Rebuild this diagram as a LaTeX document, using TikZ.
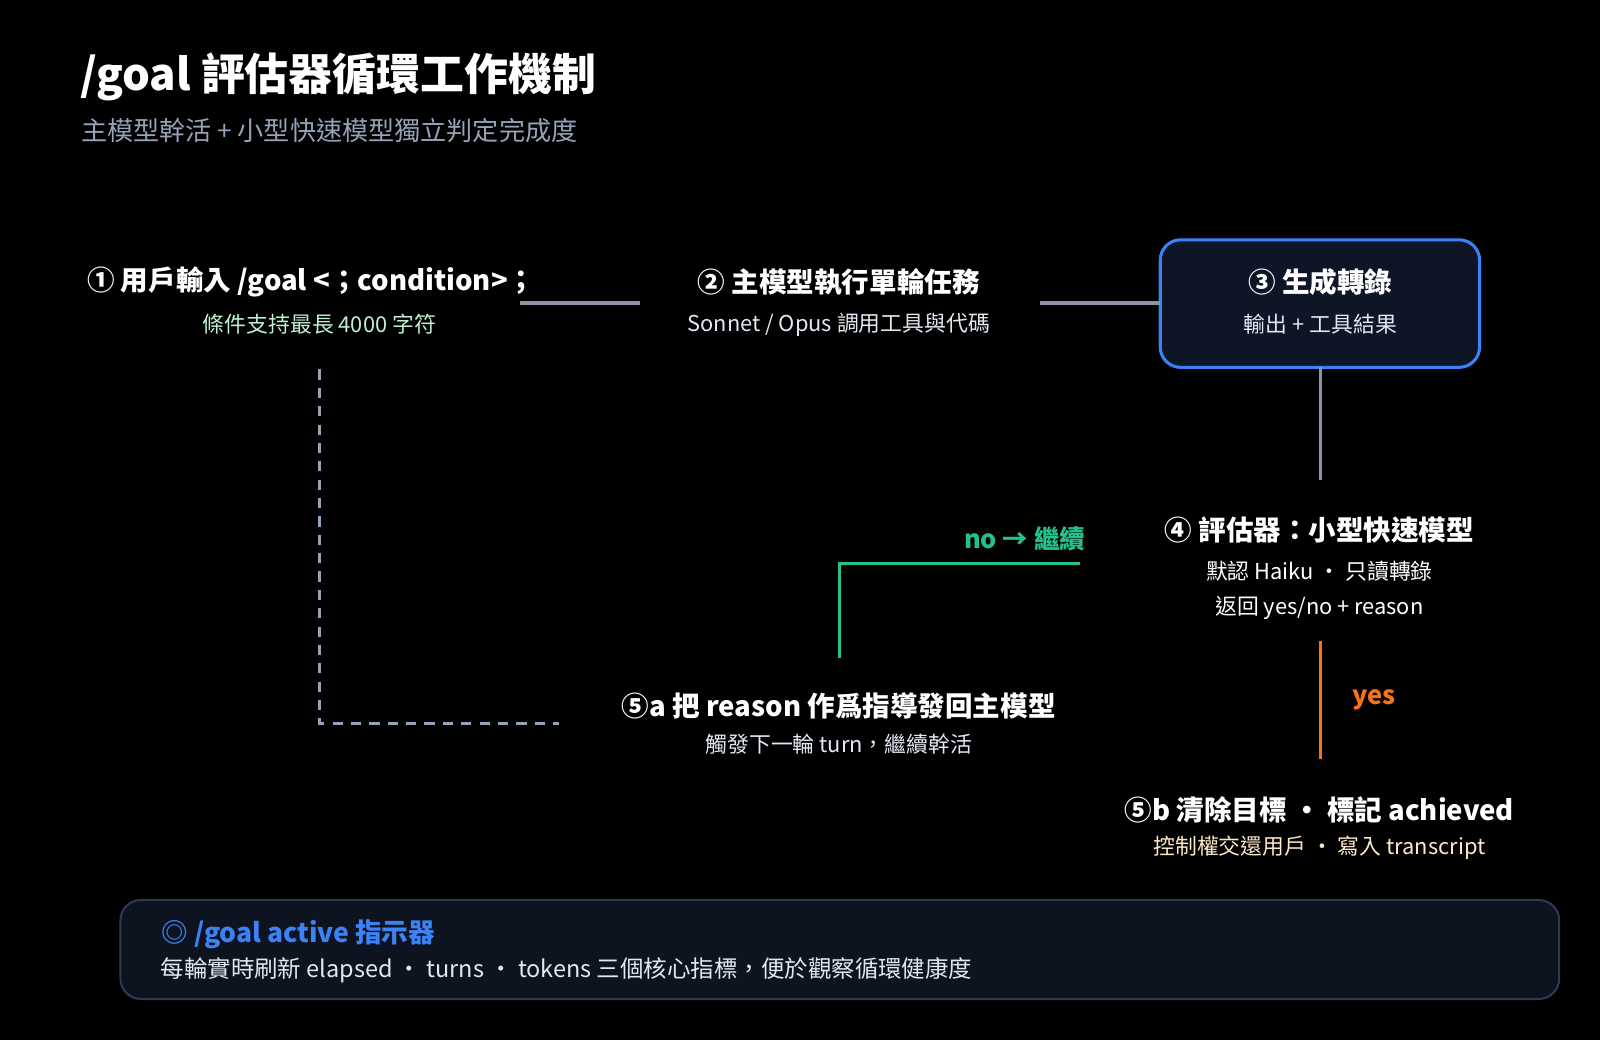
\documentclass[tikz,border=0pt]{standalone}
\usepackage{fontspec}
\setmainfont{Noto Sans CJK TC}
\definecolor{bg}{HTML}{000000}
\definecolor{ln}{HTML}{8A94A6}
\definecolor{grn}{HTML}{22C38A}
\definecolor{org}{HTML}{F97316}
\definecolor{blu}{HTML}{3B82F6}
\definecolor{subg}{HTML}{BFF0D0}
\definecolor{subw}{HTML}{E2E8F0}
\definecolor{suby}{HTML}{FDE8C8}
\definecolor{gry}{HTML}{94A3B8}
\definecolor{boxf}{HTML}{0D1526}
\definecolor{panf}{HTML}{0D1420}
\definecolor{pand}{HTML}{2E3A4D}
\begin{document}
\begin{tikzpicture}[x=0.5pt,y=-0.5pt,
  ttl/.style={text=white,font=\fontsize{13.5}{16}\selectfont\bfseries,anchor=center,inner sep=0},
  sub/.style={font=\fontsize{10.7}{13}\selectfont,anchor=center,inner sep=0},
  conn/.style={line width=1.6pt}]
\fill[bg] (0,0) rectangle (1568,1019);
\useasboundingbox (0,0) rectangle (1568,1019);
\node[anchor=west,text=white,font=\fontsize{21.5}{24}\selectfont\bfseries,inner sep=0] (title) at (78,75) {/goal 評估器循環工作機制};
\node[anchor=west,text=gry,font=\fontsize{12.8}{15}\selectfont,inner sep=0] (subt) at (79,128) {主模型幹活 + 小型快速模型獨立判定完成度};
% node 1
\node[ttl] (n1) at (305,276) {① 用戶輸入 /goal <；condition>；};
\node[sub,text=subg] (n1s) at (313,318) {條件支持最長 4000 字符};
% node 2
\node[ttl] (n2) at (822,276) {② 主模型執行單輪任務};
\node[sub,text=subw] (n2s) at (822,318) {Sonnet / Opus 調用工具與代碼};
% node 3
\draw[blu,fill=boxf,line width=1.5pt,rounded corners=10] (1137,235) rectangle (1450,360);
\node[ttl] (n3) at (1294,276) {③ 生成轉錄};
\node[sub,text=subw] (n3s) at (1294,318) {輸出 + 工具結果};
% node 4
\node[ttl] (n4) at (1293,519) {④ 評估器：小型快速模型};
\node[sub,text=white] (n4s) at (1293,560) {默認 Haiku · 只讀轉錄};
\node[sub,text=white] (n4t) at (1293,596) {返回 yes/no + reason};
% node 5a
\node[ttl] (n5a) at (822,692) {⑤a 把 reason 作爲指導發回主模型};
\node[sub,text=subw] (n5as) at (822,729) {觸發下一輪 turn，繼續幹活};
% node 5b
\node[ttl] (n5b) at (1293,794) {⑤b 清除目標 · 標記 achieved};
\node[sub,text=suby] (n5bs) at (1293,831) {控制權交還用戶 · 寫入 transcript};
% connectors
\coordinate (a1) at (510,297); \coordinate (a2) at (627,297);
\coordinate (b1) at (1019,297); \coordinate (b2) at (1137,297);
\coordinate (c1) at (1294,360); \coordinate (c2) at (1294,470);
\coordinate (g1) at (1058,552); \coordinate (g2) at (823,645);
\coordinate (o1) at (1294,628); \coordinate (o2) at (1294,744);
\coordinate (d1) at (313,362); \coordinate (d2) at (548,709);
\draw[conn,ln] (a1) -- (a2);
\draw[conn,ln] (b1) -- (b2);
\draw[conn,ln] (c1) -- (c2);
\draw[conn,grn] (g1) -| (g2);
\node[text=grn,font=\fontsize{12.5}{14}\selectfont\bfseries,anchor=east,inner sep=0] (lno) at (1064,528) {no → 繼續};
\draw[conn,org] (o1) -- (o2);
\node[text=org,font=\fontsize{12.5}{14}\selectfont\bfseries,anchor=west,inner sep=0] (lyes) at (1325,686) {yes};
\draw[conn,gry,dash pattern=on 5pt off 4pt] (d1) |- (d2);
% bottom box
\draw[draw=pand,fill=panf,line width=1pt,rounded corners=10] (118,882) rectangle (1528,979);
\node[anchor=west,text=blu,font=\fontsize{13}{15}\selectfont\bfseries,inner sep=0] (bt) at (158,916) {◎ /goal active 指示器};
\node[anchor=west,text=subw,font=\fontsize{11.5}{13}\selectfont,inner sep=0] (bs) at (157,951) {每輪實時刷新 elapsed · turns · tokens 三個核心指標，便於觀察循環健康度};
\end{tikzpicture}
\end{document}
